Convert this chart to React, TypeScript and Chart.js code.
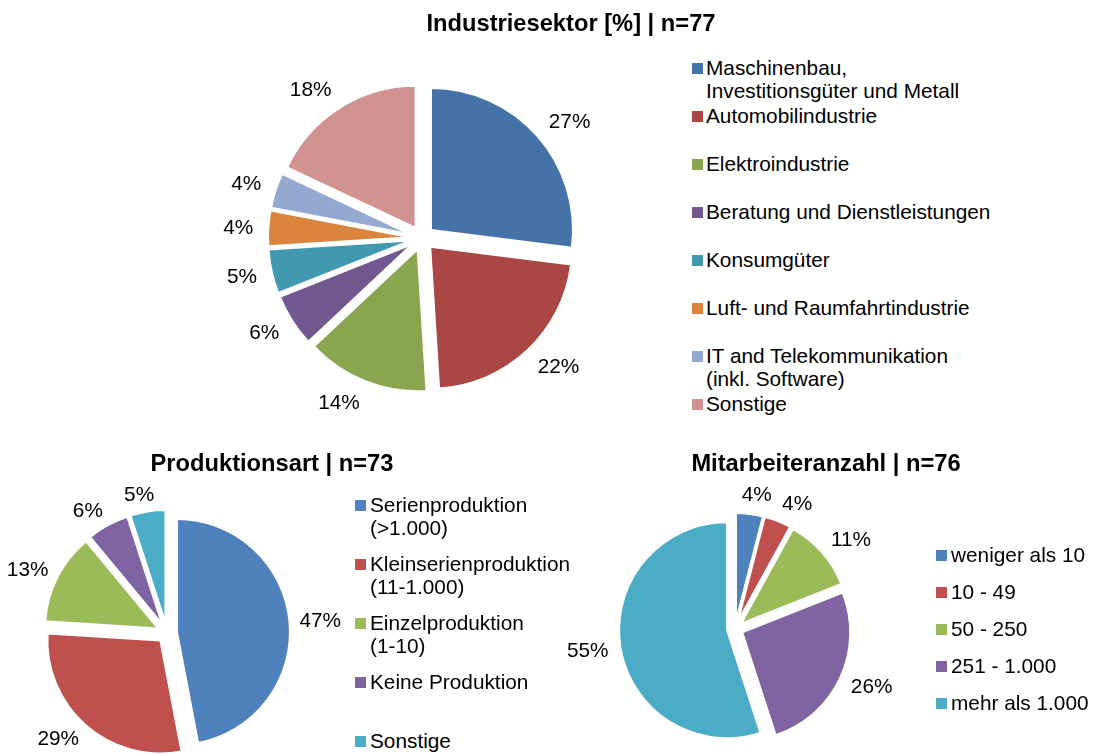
import React, { useEffect, useRef } from "react";
import { Chart, registerables } from "chart.js";

Chart.register(...registerables);

const FONT = '"Liberation Sans", Arial, Helvetica, sans-serif';

// ---------- Data ----------
const industryTitle = "Industriesektor [%] | n=77";
const industryLabels = [
  "Maschinenbau,\nInvestitionsgüter und Metall",
  "Automobilindustrie",
  "Elektroindustrie",
  "Beratung und Dienstleistungen",
  "Konsumgüter",
  "Luft- und Raumfahrtindustrie",
  "IT and Telekommunikation\n(inkl. Software)",
  "Sonstige",
];
const industryValues = [27, 22, 14, 6, 5, 4, 4, 18];
const industryColors = ["#4572A7", "#AA4643", "#89A54E", "#71588F", "#4198AF", "#DB843D", "#93A9CF", "#D19392"];

const productionTitle = "Produktionsart | n=73";
const productionLabels = [
  "Serienproduktion\n(>1.000)",
  "Kleinserienproduktion\n(11-1.000)",
  "Einzelproduktion\n(1-10)",
  "Keine Produktion",
  "Sonstige",
];
const productionValues = [47, 29, 13, 6, 5];
const productionColors = ["#4F81BD", "#C0504D", "#9BBB59", "#8064A2", "#4BACC6"];

const employeeTitle = "Mitarbeiteranzahl | n=76";
const employeeLabels = ["weniger als 10", "10 - 49", "50 - 250", "251 - 1.000", "mehr als 1.000"];
const employeeValues = [4, 4, 11, 26, 55];
const employeeColors = ["#4F81BD", "#C0504D", "#9BBB59", "#8064A2", "#4BACC6"];

const LABEL_SIZE = 20.8;
const LEGEND_SIZE = 20.8;
const TITLE_SIZE = 23.7;

// ---------- Plugin: uniform explosion of every slice ----------
const explodePlugin = {
  id: "explode",
  beforeDatasetDraw(chart: any, args: any, opts: any) {
    const ctx = chart.ctx;
    const meta = args.meta;
    const area = chart.chartArea;
    meta.data.forEach((arc: any) => {
      const p = arc.getProps(["startAngle", "endAngle"], true);
      const mid = (p.startAngle + p.endAngle) / 2;
      ctx.save();
      ctx.translate(Math.cos(mid) * opts.distance, Math.sin(mid) * opts.distance);
      arc.draw(ctx, area);
      ctx.restore();
    });
    return false;
  },
};

// ---------- Plugin: percent labels outside slices ----------
const pctLabelPlugin = {
  id: "pctLabels",
  afterDatasetsDraw(chart: any, _args: any, opts: any) {
    const ctx = chart.ctx;
    const meta = chart.getDatasetMeta(0);
    const ds = chart.data.datasets[0];
    ctx.save();
    ctx.font = `${opts.size}px ${FONT}`;
    ctx.fillStyle = "#000";
    ctx.textAlign = "center";
    ctx.textBaseline = "middle";
    meta.data.forEach((arc: any, i: number) => {
      const p = arc.getProps(["startAngle", "endAngle", "x", "y", "outerRadius"], true);
      const mid = (p.startAngle + p.endAngle) / 2;
      const text = ds.data[i] + "%";
      const w = ctx.measureText(text).width;
      const h = opts.size * 0.72;
      const c = Math.cos(mid);
      const s = Math.sin(mid);
      const d = p.outerRadius + opts.explode + opts.gap;
      const dx = Math.sign(c) * Math.min(1, Math.abs(c) * 3) * (w / 2);
      const dy = s * (h / 2);
      ctx.fillText(text, p.x + c * d + dx, p.y + s * d + dy + 1);
    });
    ctx.restore();
  },
};

type PieProps = {
  values: number[];
  labels: string[];
  colors: string[];
  cx: number;
  cy: number;
  radius: number;
  explode: number;
  size: number;
  gap: number;
};

function PieChart({ values, labels, colors, cx, cy, radius, explode, size, gap }: PieProps) {
  const ref = useRef<HTMLCanvasElement | null>(null);
  useEffect(() => {
    if (!ref.current) return;
    const chart = new Chart(ref.current, {
      type: "pie",
      data: {
        labels: labels.map((l) => l.replace("\n", " ")),
        datasets: [
          {
            data: values,
            backgroundColor: colors,
            borderColor: "#ffffff",
            borderWidth: 2,
          },
        ],
      },
      options: {
        responsive: false,
        maintainAspectRatio: false,
        animation: false,
        radius: radius,
        layout: { padding: 0 },
        plugins: {
          legend: { display: false },
          title: { display: false },
          tooltip: { enabled: false },
          explode: { distance: explode },
          pctLabels: { size: LABEL_SIZE, explode, gap },
        } as any,
      } as any,
      plugins: [explodePlugin, pctLabelPlugin],
    });
    return () => chart.destroy();
  }, []);
  return (
    <canvas
      ref={ref}
      width={size}
      height={size}
      style={{ position: "absolute", left: cx - size / 2, top: cy - size / 2, width: size, height: size }}
    />
  );
}

function Title({ text, cx, cy }: { text: string; cx: number; cy: number }) {
  return (
    <div
      style={{
        position: "absolute",
        left: cx - 300,
        width: 600,
        top: cy - 14,
        height: 28,
        lineHeight: "28px",
        textAlign: "center",
        fontFamily: FONT,
        fontWeight: "bold",
        fontSize: TITLE_SIZE,
        color: "#000",
      }}
    >
      {text}
    </div>
  );
}

function Legend({
  labels,
  colors,
  sqX,
  textX,
  firstY,
  step,
}: {
  labels: string[];
  colors: string[];
  sqX: number;
  textX: number;
  firstY: number;
  step: number;
}) {
  return (
    <>
      {labels.map((l, i) => {
        const y = firstY + i * step;
        return (
          <React.Fragment key={i}>
            <div
              style={{ position: "absolute", left: sqX, top: y - 5, width: 11, height: 11, background: colors[i] }}
            />
            <div
              style={{
                position: "absolute",
                left: textX,
                top: y - 12,
                fontFamily: FONT,
                fontSize: LEGEND_SIZE,
                lineHeight: "23px",
                whiteSpace: "pre",
                color: "#000",
              }}
            >
              {l}
            </div>
          </React.Fragment>
        );
      })}
    </>
  );
}

export default function App() {
  return (
    <div
      style={{
        position: "absolute",
        left: 0,
        top: 0,
        width: 1093,
        height: 754,
        overflow: "hidden",
        background: "#ffffff",
      }}
    >
      <PieChart
        values={industryValues}
        labels={industryLabels}
        colors={industryColors}
        cx={422}
        cy={238}
        radius={142}
        explode={12}
        size={440}
        gap={15}
      />
      <PieChart
        values={productionValues}
        labels={productionLabels}
        colors={productionColors}
        cx={167}
        cy={633}
        radius={113}
        explode={10}
        size={370}
        gap={10}
      />
      <PieChart
        values={employeeValues}
        labels={employeeLabels}
        colors={employeeColors}
        cx={735}
        cy={629}
        radius={108}
        explode={8}
        size={360}
        gap={12}
      />
      <Title text={industryTitle} cx={571} cy={23} />
      <Title text={productionTitle} cx={272} cy={463} />
      <Title text={employeeTitle} cx={826} cy={463} />
      <Legend labels={industryLabels} colors={industryColors} sqX={692} textX={706} firstY={68} step={48} />
      <Legend labels={productionLabels} colors={productionColors} sqX={355} textX={370} firstY={505} step={59} />
      <Legend labels={employeeLabels} colors={employeeColors} sqX={936} textX={951} firstY={555} step={37} />
    </div>
  );
}
